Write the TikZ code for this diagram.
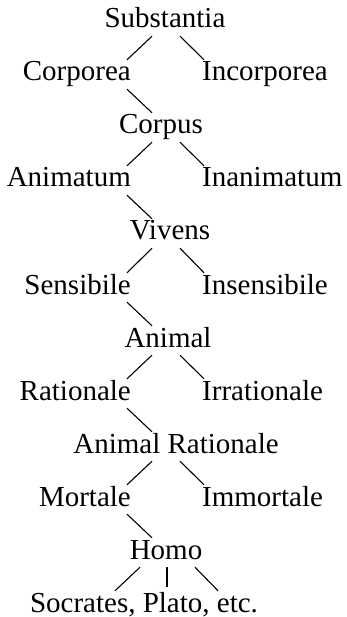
\documentclass[tikz,border=0pt]{standalone}
\usepackage{fontspec}
\setmainfont{Liberation Serif}

\begin{document}
\begin{tikzpicture}[
  x=1pt, y=-1pt,
  term/.style={inner sep=0pt, text height=21pt, text depth=8pt, font=\fontsize{29}{34}\selectfont},
  left/.style={term, anchor=base east},
  right/.style={term, anchor=base west},
  spine/.style={term, anchor=base},
  branch/.style={line width=1.1pt}
]
  \useasboundingbox (0,0) rectangle (347,617);

  % columns the branches run between
  \coordinate (inL) at (152,0);
  \coordinate (outL) at (127,0);
  \coordinate (inR) at (180,0);
  \coordinate (outR) at (204,0);

  % genera down the middle
  \node[spine] (subst) at (165,28) {Substantia};
  \node[spine] (corpus) at (161,134) {Corpus};
  \node[spine] (vivens) at (170,240) {Vivens};
  \node[spine] (animal) at (168,347) {Animal};
  \node[spine] (animrat) at (176,453) {Animal Rationale};
  \node[spine] (homo) at (166,559) {Homo};
  \node[spine] (socr) at (144,612) {Socrates, Plato, etc.};

  % differentiae, left column
  \node[left] (corp) at (131,81) {Corporea};
  \node[left] (anim) at (131,187) {Animatum};
  \node[left] (sens) at (131,294) {Sensibile};
  \node[left] (rat) at (131,400) {Rationale};
  \node[left] (mort) at (131,506) {Mortale};

  % differentiae, right column
  \node[right] (incorp) at (202,81) {Incorporea};
  \node[right] (inanim) at (202,187) {Inanimatum};
  \node[right] (insens) at (202,294) {Insensibile};
  \node[right] (irrat) at (202,400) {Irrationale};
  \node[right] (immort) at (202,506) {Immortale};

  % branches
  \foreach \p/\c in {subst/corp, corpus/anim, vivens/sens, animal/rat, animrat/mort}
    \draw[branch] (\p.south -| inL) -- (\c.north -| outL);
  \foreach \p/\c in {subst/incorp, corpus/inanim, vivens/insens, animal/irrat, animrat/immort}
    \draw[branch] (\p.south -| inR) -- (\c.north -| outR);
  \foreach \p/\c in {corp/corpus, anim/vivens, sens/animal, rat/animrat, mort/homo}
    \draw[branch] (\p.south -| outL) -- (\c.north -| inL);

  % individuals
  \coordinate (hA) at (140,0);
  \coordinate (hB) at (115,0);
  \coordinate (hC) at (167,0);
  \coordinate (hD) at (195,0);
  \coordinate (hE) at (218,0);
  \draw[branch] (homo.south -| hA) -- (socr.north -| hB);
  \draw[branch, shorten >=4pt] (homo.south -| hC) -- (socr.north -| hC);
  \draw[branch] (homo.south -| hD) -- (socr.north -| hE);
\end{tikzpicture}
\end{document}
